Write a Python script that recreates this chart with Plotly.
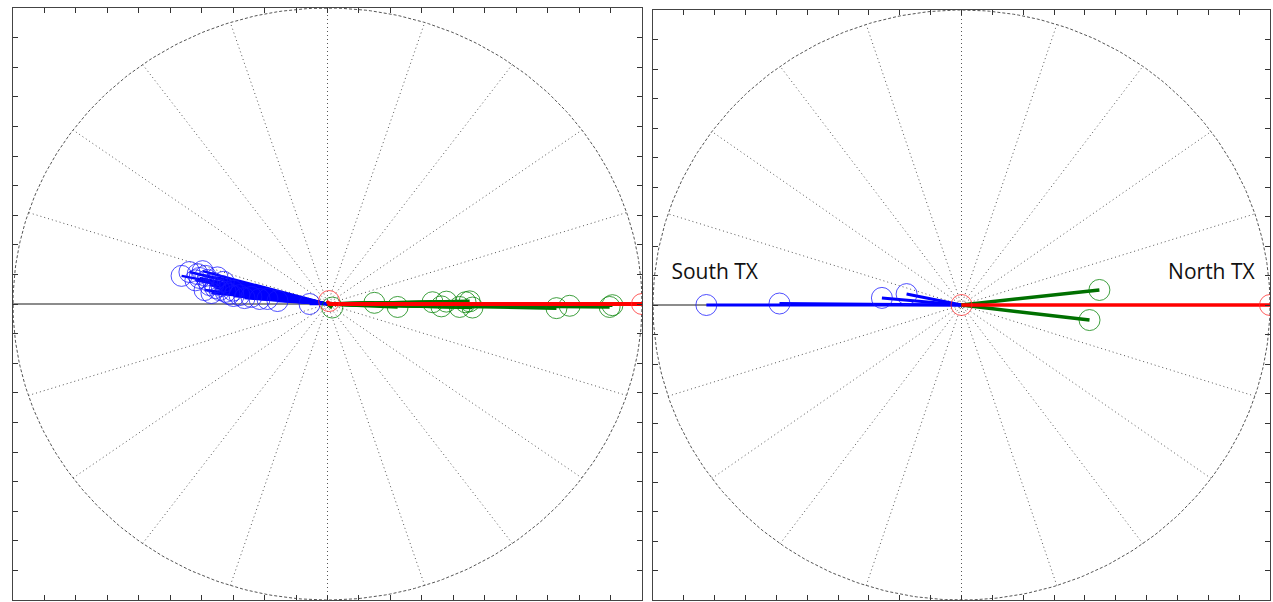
import numpy as np
import plotly.graph_objects as go

# ---- data (compass vectors: u = east component, v = north component) ----
left_blue_u = [-0.464, -0.439, -0.413, -0.397, -0.388, -0.382, -0.375, -0.362, -0.356, -0.343,
               -0.337, -0.324, -0.312, -0.299, -0.280, -0.264, -0.242, -0.216, -0.191, -0.159,
               -0.057, -0.407, -0.391, -0.369, -0.420, -0.350, -0.330, -0.300]
left_blue_v = [0.095, 0.108, 0.101, 0.111, 0.095, 0.081, 0.064, 0.071, 0.054, 0.047,
               0.061, 0.041, 0.034, 0.027, 0.030, 0.020, 0.024, 0.017, 0.017, 0.010,
               0.000, 0.088, 0.047, 0.037, 0.080, 0.090, 0.075, 0.045]
left_green_u = [0.015, 0.149, 0.223, 0.334, 0.362, 0.378, 0.420, 0.439, 0.452, 0.461,
                0.728, 0.770, 0.897, 0.906]
left_green_v = [-0.012, 0.004, -0.010, 0.006, -0.008, 0.008, -0.010, 0.006, 0.009, -0.012,
                -0.014, -0.006, -0.010, -0.004]
left_red_u = [1.0, 0.005]
left_red_v = [0.0, 0.010]

right_blue_u = [-0.827, -0.590, -0.258, -0.178]
right_blue_v = [0.000, 0.005, 0.024, 0.037]
right_green_u = [0.447, 0.415]
right_green_v = [0.051, -0.051]
right_red_u = [1.0, 0.0]
right_red_v = [0.0, 0.0]

labels = ["South TX", "North TX"]
label_x = [-0.80, 0.81]
label_y = [0.105, 0.105]

fig = go.Figure()


def add_grid(xa, ya):
    t = np.linspace(0, 2 * np.pi, 400)
    fig.add_trace(go.Scatter(x=np.cos(t), y=np.sin(t), mode="lines", xaxis=xa, yaxis=ya,
                             line=dict(color="#555", width=1, dash="3px,2px"),
                             hoverinfo="skip"))
    sx, sy = [], []
    for k in range(1, 10):
        a = np.deg2rad(k * 18)
        sx += [-np.cos(a), np.cos(a), None]
        sy += [-np.sin(a), np.sin(a), None]
    fig.add_trace(go.Scatter(x=sx, y=sy, mode="lines", xaxis=xa, yaxis=ya,
                             line=dict(color="#555", width=1, dash="1px,3px"),
                             hoverinfo="skip"))
    fig.add_trace(go.Scatter(x=[-1, 1], y=[0, 0], mode="lines", xaxis=xa, yaxis=ya,
                             line=dict(color="#666", width=1.5), hoverinfo="skip"))


def add_vectors(u, v, color, mcolor, width, xa, ya):
    lx, ly = [], []
    for a, b in zip(u, v):
        lx += [0, a, None]
        ly += [0, b, None]
    fig.add_trace(go.Scatter(x=lx, y=ly, mode="lines", xaxis=xa, yaxis=ya,
                             line=dict(color=color, width=width)))
    fig.add_trace(go.Scatter(x=u, y=v, mode="markers", xaxis=xa, yaxis=ya,
                             marker=dict(symbol="circle-open", size=21, color=mcolor,
                                         line=dict(width=1, color=mcolor))))


add_grid("x", "y")
add_vectors(left_blue_u, left_blue_v, "#0000ff", "rgba(20,20,255,0.75)", 2.5, "x", "y")
add_vectors(left_green_u, left_green_v, "#007000", "rgba(0,128,0,0.75)", 3.5, "x", "y")
add_vectors(left_red_u, left_red_v, "#ff0000", "rgba(255,40,40,0.75)", 4, "x", "y")

add_grid("x2", "y2")
add_vectors(right_blue_u, right_blue_v, "#0000ff", "rgba(20,20,255,0.75)", 3, "x2", "y2")
add_vectors(right_green_u, right_green_v, "#007000", "rgba(0,128,0,0.75)", 3.5, "x2", "y2")
add_vectors(right_red_u, right_red_v, "#ff0000", "rgba(255,40,40,0.75)", 3.5, "x2", "y2")

fig.add_trace(go.Scatter(x=label_x, y=label_y, mode="text", text=labels, xaxis="x2", yaxis="y2",
                         textfont=dict(family="Open Sans", size=21, color="#111")))

W, H = 1273, 602
axis_common = dict(range=[-1, 1], showgrid=False, zeroline=False, showticklabels=False,
                   ticks="inside", ticklen=5, tickcolor="#333", dtick=0.1, tick0=-1,
                   showline=True, linecolor="#444", linewidth=1, mirror="ticks")

fig.update_layout(
    width=W, height=H, margin=dict(l=0, r=0, t=0, b=0),
    paper_bgcolor="white", plot_bgcolor="white", showlegend=False,
    xaxis=dict(domain=[13 / W, 642 / W], anchor="y", **axis_common),
    yaxis=dict(domain=[(H - 600) / H, (H - 8) / H], anchor="x", **axis_common),
    xaxis2=dict(domain=[653 / W, 1270 / W], anchor="y2", **axis_common),
    yaxis2=dict(domain=[(H - 600) / H, (H - 10) / H], anchor="x2", **axis_common),
)

fig.write_html("out.html")
